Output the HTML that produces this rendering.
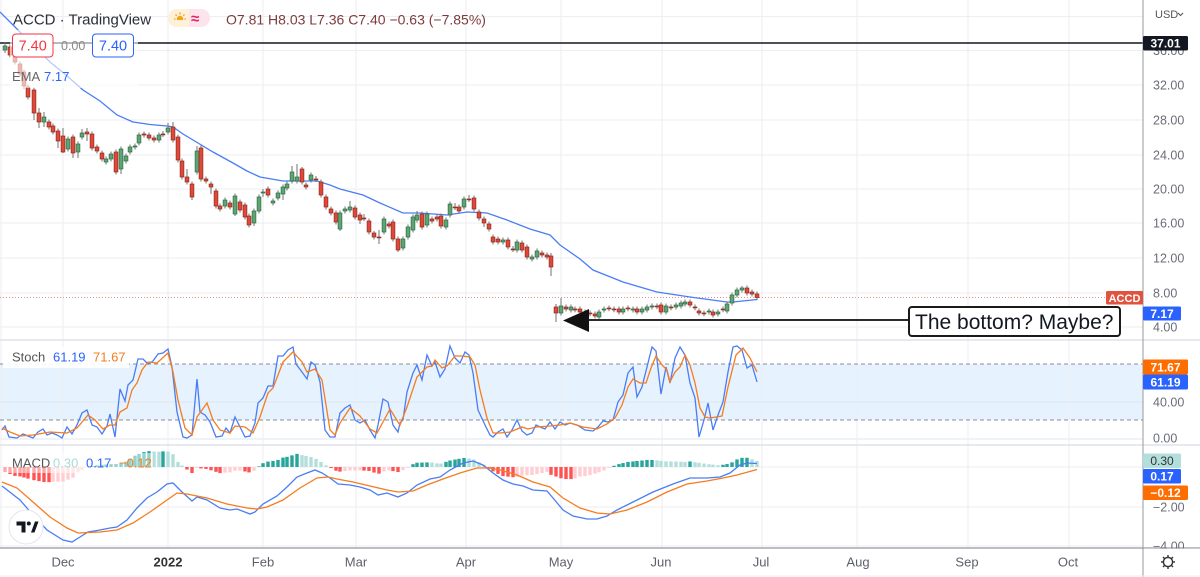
<!DOCTYPE html>
<html><head><meta charset="utf-8">
<style>
html,body{margin:0;padding:0;background:#fff;}
svg{display:block;font-family:"Liberation Sans",Arial,sans-serif;}
</style></head><body>
<svg id="c" width="1200" height="577" viewBox="0 0 1200 577" xmlns="http://www.w3.org/2000/svg">
<rect width="1200" height="577" fill="#fff"/>
<!-- grid -->
<g stroke="#eceef2" stroke-width="1">
<line x1="0" y1="16.5" x2="1143" y2="16.5"/><line x1="0" y1="50.5" x2="1143" y2="50.5"/>
<line x1="0" y1="85" x2="1143" y2="85"/><line x1="0" y1="120" x2="1143" y2="120"/>
<line x1="0" y1="155" x2="1143" y2="155"/><line x1="0" y1="189" x2="1143" y2="189"/>
<line x1="0" y1="223" x2="1143" y2="223"/><line x1="0" y1="258" x2="1143" y2="258"/>
<line x1="0" y1="293" x2="1143" y2="293"/><line x1="0" y1="327" x2="1143" y2="327"/>
<line x1="0" y1="467" x2="1143" y2="467"/><line x1="0" y1="507" x2="1143" y2="507"/>
<line x1="0" y1="546" x2="1143" y2="546"/>
</g>
<!-- stoch band -->
<rect x="0" y="364" width="1143" height="56" fill="#e6f2fd"/>
<g stroke="#dfe6ef" stroke-width="1">
<line x1="0" y1="402" x2="1143" y2="402"/><line x1="0" y1="439" x2="1143" y2="439"/>
</g>
<g stroke="#eceef2" stroke-width="1">
<line x1="63" y1="0" x2="63" y2="548"/><line x1="168" y1="0" x2="168" y2="548"/>
<line x1="263" y1="0" x2="263" y2="548"/><line x1="356" y1="0" x2="356" y2="548"/>
<line x1="466" y1="0" x2="466" y2="548"/><line x1="561" y1="0" x2="561" y2="548"/>
<line x1="662" y1="0" x2="662" y2="548"/><line x1="762" y1="0" x2="762" y2="548"/>
<line x1="857" y1="0" x2="857" y2="548"/><line x1="968" y1="0" x2="968" y2="548"/>
<line x1="1069" y1="0" x2="1069" y2="548"/>
<line x1="1" y1="0" x2="1" y2="548"/>
</g>
<g stroke="#8a8d96" stroke-width="1" stroke-dasharray="4,3">
<line x1="0" y1="364" x2="1143" y2="364"/><line x1="0" y1="420" x2="1143" y2="420"/>
</g>
<!-- panel separators -->
<line x1="0" y1="340" x2="1200" y2="340" stroke="#dfe2ea" stroke-width="1.5"/>
<line x1="0" y1="445" x2="1200" y2="445" stroke="#dfe2ea" stroke-width="1.5"/>

<!-- 37.01 line -->
<line x1="0" y1="43" x2="1143" y2="43" stroke="#131722" stroke-width="1.6"/>
<!-- current price dotted line -->
<line x1="0" y1="297.5" x2="1106" y2="297.5" stroke="#f08a7e" stroke-width="1" stroke-dasharray="1,2"/>

<!-- EMA -->
<polyline fill="none" stroke="#4a7df5" stroke-width="1.3" points="0,12 15,27 33,45 50,62 66,75 83,90 100,101 117,115 133,122 150,124.5 167,126 173,127 183,134 193,140 213,152 233,163 247,171 260,177 283,181 317,181 330,185 340,189 363,195 380,203 403,213 420,213 447,215 467,212 487,213 507,220 530,229 550,235 560,245 580,259 593,270 623,282 657,292 690,297 727,302 733,302 757,299.5"/>

<g id="candles"></g>
<g id="hist"></g>

<!-- Stoch lines -->
<polyline id="sk" fill="none" stroke="#4a7df5" stroke-width="1.3" points="2,430 5,426 9,437 17,438 23,434 28,436 33,438 38,432 43,429 47,435 52,433 57,435 62,438 67,427 72,434 77,425 82,413 87,410 92,425 97,427 102,434 107,426 110,414 115,437 120,389 125,401 128,385 133,380 138,359 143,359 148,364 153,361 158,354 163,353 168,349 172,367 177,412 183,437 187,438 192,435 197,379 200,412 205,415 210,422 216,437 222,436 226,428 230,433 235,417 240,427 245,437 250,436 255,423 258,403 263,398 268,386 273,386 278,356 283,356 288,350 293,347 296,364 302,372 307,379 311,362 315,365 320,382 325,430 330,437 335,437 340,413 345,408 350,405 355,420 360,423 365,420 370,430 375,438 378,425 383,399 388,402 393,425 398,432 400,423 403,420 407,392 413,373 417,365 422,380 427,355 432,366 435,362 440,377 445,369 450,346 455,358 460,363 465,352 469,355 473,373 478,410 485,425 490,435 493,437 498,432 503,429 507,437 512,430 517,420 522,431 527,435 532,433 536,425 540,427 545,429 550,422 555,429 560,422 565,425 570,423 577,425 585,430 593,431 598,427 603,421 608,422 613,420 618,402 623,395 628,373 633,367 637,397 642,387 647,367 652,347 656,351 661,394 666,367 670,383 675,358 680,347 685,355 690,383 695,398 699,437 704,420 708,403 713,430 718,415 723,402 728,372 733,347 737,346 742,350 747,368 752,365 757,382"/>
<polyline fill="none" stroke="#f57c1f" stroke-width="1.3" points="2,428 10,432 20,436 33,435 50,432 67,433 77,428 88,415 95,420 103,429 110,425 115,425 120,412 127,408 132,390 137,383 142,370 148,362 157,363 168,353 173,372 178,400 185,428 192,435 197,417 207,403 213,420 220,430 230,433 235,426 245,427 253,433 260,417 268,393 273,388 283,362 293,352 302,362 307,372 315,369 322,380 330,430 335,435 340,423 350,408 360,416 370,429 377,433 383,422 390,409 398,422 400,425 407,407 417,377 422,372 427,367 432,366 435,360 442,368 447,366 455,356 462,356 470,357 475,365 480,390 487,418 493,433 500,433 510,432 522,427 528,429 537,427 550,426 560,425 570,423 583,427 597,429 607,424 615,418 622,405 628,387 633,379 640,383 646,383 651,368 656,356 662,365 667,370 670,382 675,372 680,367 685,355 690,365 695,383 700,408 705,417 710,418 716,417 722,416 728,387 736,355 743,348 750,358 757,372"/>

<!-- MACD lines -->
<polyline id="mb" fill="none" stroke="#4a7df5" stroke-width="1.3" points="2,486 20,500 33,515 47,530 63,540 72,542 80,537 88,532 100,530 110,528 117,527 127,520 137,508 147,498 157,492 167,484 173,483 182,492 192,501 197,497 207,500 220,508 230,510 237,509 250,514 255,512 263,504 277,496 287,487 297,477 307,473 315,470 322,473 330,478 338,484 350,485 360,487 370,490 378,495 387,493 398,497 407,493 417,485 430,479 440,477 450,470 463,463 473,461 483,465 493,473 503,480 513,484 523,486 533,490 547,491 553,498 563,510 573,516 587,519 597,519 607,516 617,510 633,502 653,492 673,484 690,478 707,478 720,477 730,473 740,465 747,463 757,463.5"/>
<polyline id="mo" fill="none" stroke="#f57c1f" stroke-width="1.3" points="2,482 17,488 33,502 50,517 67,528 78,533 100,532 117,530 133,523 150,512 167,500 177,493 187,494 207,498 227,504 247,508 257,509 267,507 283,500 300,488 317,478 328,477 337,479 353,482 370,486 387,490 398,492 413,491 427,485 443,479 460,473 477,468 490,468 500,470 517,475 533,482 550,487 563,498 580,508 597,513 610,514 627,510 647,502 667,492 687,484 707,481 723,478 737,475 757,469.5"/>

<!-- legend overlays -->
<rect x="10" y="30" width="128" height="58" fill="#fff" opacity="0.6"/>
<rect x="3" y="347" width="126" height="21" fill="#fff" opacity="0.9"/>
<rect x="3" y="453" width="150" height="20" fill="#fff" opacity="0.5"/>

<!-- header -->
<text x="13" y="24.5" font-size="15" fill="#2a2e39">ACCD · TradingView</text>
<rect x="168" y="9" width="42" height="18" rx="9" fill="#fde3ec"/>
<path d="M177,9 h12 v18 h-12 a9,9 0 0 1 0,-18z" fill="#fff0d8"/>
<circle cx="180" cy="19" r="3.2" fill="#f7a21b"/>
<g stroke="#f7a21b" stroke-width="1.3"><line x1="180" y1="12.5" x2="180" y2="14.5"/><line x1="174" y1="19" x2="175.5" y2="19"/><line x1="184.5" y1="19" x2="186" y2="19"/><line x1="175.5" y1="14.5" x2="176.7" y2="15.7"/><line x1="184.5" y1="14.5" x2="183.3" y2="15.7"/></g>
<rect x="174" y="20" width="12" height="3" fill="#fff0d8"/>
<text x="191" y="23.5" font-size="15" font-weight="bold" fill="#e0245e">≈</text>
<text x="226" y="24.5" font-size="14" fill="#7f3b3b">O7.81 H8.03 L7.36 C7.40 −0.63 (−7.85%)</text>

<rect x="12.5" y="34" width="40.5" height="23" rx="3.5" fill="#fff" stroke="#f23645" stroke-width="1"/>
<text x="32.7" y="50.5" font-size="14.5" fill="#f23645" text-anchor="middle">7.40</text>
<text x="61" y="50" font-size="12.5" fill="#8a8a8a">0.00</text>
<rect x="92.5" y="34" width="41" height="23" rx="3.5" fill="#fff" stroke="#2962ff" stroke-width="1"/>
<text x="113" y="50.5" font-size="14.5" fill="#2962ff" text-anchor="middle">7.40</text>
<text x="12" y="81" font-size="13" fill="#666">EMA</text>
<text x="44" y="81" font-size="13" fill="#2962ff">7.17</text>

<text x="12" y="361.5" font-size="13" fill="#555">Stoch</text>
<text x="53" y="361.5" font-size="13" fill="#2962ff">61.19</text>
<text x="93" y="361.5" font-size="13" fill="#f57c1f">71.67</text>

<text x="12" y="467.5" font-size="13" fill="#555">MACD</text>
<text x="53" y="467.5" font-size="13" fill="#a8dcd6">0.30</text>
<text x="86" y="467.5" font-size="13" fill="#2962ff">0.17</text>
<text x="119" y="467.5" font-size="13" fill="#f57c1f">−0.12</text>

<!-- annotation -->
<line x1="586" y1="320" x2="909" y2="320" stroke="#2a2a2a" stroke-width="2"/>
<polygon points="563,320.5 589,309 589,332" fill="#111"/>
<rect x="909" y="307" width="211" height="29" rx="3" fill="#fff" stroke="#1a1a1a" stroke-width="2"/>
<text x="915" y="329" font-size="21" fill="#131722">The bottom? Maybe?</text>

<!-- TV logo -->
<circle cx="26" cy="527" r="17" fill="#fff" stroke="#e3e5ea" stroke-width="1"/>
<path d="M16.5,521.5 h9 v11 h-4 v-7 h-5z" fill="#131722"/>
<circle cx="28.8" cy="523.5" r="2" fill="#131722"/>
<polygon points="31,532.5 35,521.5 38.5,521.5 34.5,532.5" fill="#131722"/>

<!-- axes -->
<line x1="1143" y1="0" x2="1143" y2="577" stroke="#9598a1" stroke-width="1"/>
<line x1="0" y1="548" x2="1200" y2="548" stroke="#9598a1" stroke-width="1.2"/>
<line x1="0" y1="576" x2="1200" y2="576" stroke="#eceef2" stroke-width="1"/>

<text x="1155" y="18" font-size="11" fill="#555">USD</text>
<path d="M1178,13 l2.5,2.5 l2.5,-2.5" fill="none" stroke="#555" stroke-width="1.1"/>

<g font-size="12.5" fill="#6a6d78">
<text x="1153" y="55">36.00</text>
<text x="1153" y="89.5">32.00</text>
<text x="1153" y="124.5">28.00</text>
<text x="1153" y="159.5">24.00</text>
<text x="1153" y="193.5">20.00</text>
<text x="1153" y="227.5">16.00</text>
<text x="1153" y="262.5">12.00</text>
<text x="1153" y="297.5">8.00</text>
<text x="1153" y="331.5">4.00</text>
<text x="1153" y="406.5">40.00</text>
<text x="1153" y="442.5">0.00</text>
<text x="1153" y="511.5">−2.00</text>
<text x="1153" y="550.5">−4.00</text>
</g>
<rect x="1144" y="548.6" width="56" height="27" fill="#fff"/>
<rect x="1143" y="36" width="45" height="14.5" fill="#131722" rx="1.5"/>
<text x="1165.5" y="47.5" font-size="12" font-weight="bold" fill="#fff" text-anchor="middle">37.01</text>
<rect x="1106" y="291" width="37" height="13.5" fill="#e0533f" rx="1.5"/>
<text x="1124.5" y="301.8" font-size="11" font-weight="bold" fill="#fff" text-anchor="middle">ACCD</text>
<rect x="1143" y="306.5" width="38" height="14" fill="#2962ff" rx="1.5"/>
<text x="1162" y="317.8" font-size="12" font-weight="bold" fill="#fff" text-anchor="middle">7.17</text>

<rect x="1143" y="359.5" width="45" height="15" fill="#ff6d00" rx="1.5"/>
<text x="1165.5" y="371.3" font-size="12" font-weight="bold" fill="#fff" text-anchor="middle">71.67</text>
<rect x="1143" y="374.5" width="45" height="15" fill="#2962ff" rx="1.5"/>
<text x="1165.5" y="386.3" font-size="12" font-weight="bold" fill="#fff" text-anchor="middle">61.19</text>

<rect x="1143" y="453.5" width="38" height="14.5" fill="#b2dfdb" rx="1.5"/>
<text x="1162" y="465" font-size="12" fill="#333" text-anchor="middle">0.30</text>
<rect x="1143" y="469" width="38" height="14.5" fill="#2962ff" rx="1.5"/>
<text x="1162" y="480.5" font-size="12" font-weight="bold" fill="#fff" text-anchor="middle">0.17</text>
<rect x="1143" y="485.5" width="45" height="14.5" fill="#ff6d00" rx="1.5"/>
<text x="1165.5" y="497" font-size="12" font-weight="bold" fill="#fff" text-anchor="middle">−0.12</text>

<!-- gear -->
<g transform="translate(1168,562)" stroke="#333" stroke-width="1.4" fill="none">
<circle r="4.6"/>
<line x1="0" y1="-7" x2="0" y2="-4.6"/><line x1="0" y1="7" x2="0" y2="4.6"/>
<line x1="-7" y1="0" x2="-4.6" y2="0"/><line x1="7" y1="0" x2="4.6" y2="0"/>
<line x1="-5" y1="-5" x2="-3.3" y2="-3.3"/><line x1="5" y1="5" x2="3.3" y2="3.3"/>
<line x1="-5" y1="5" x2="-3.3" y2="3.3"/><line x1="5" y1="-5" x2="3.3" y2="-3.3"/>
</g>

<!-- x axis labels -->
<g font-size="13" fill="#5d606b" text-anchor="middle">
<text x="63" y="566.5">Dec</text>
<text x="168" y="566.5" font-weight="bold" fill="#333">2022</text>
<text x="263" y="566.5">Feb</text>
<text x="356" y="566.5">Mar</text>
<text x="466" y="566.5">Apr</text>
<text x="561" y="566.5">May</text>
<text x="661" y="566.5">Jun</text>
<text x="761" y="566.5">Jul</text>
<text x="858" y="566.5">Aug</text>
<text x="967" y="566.5">Sep</text>
<text x="1068" y="566.5">Oct</text>
</g>
</svg>
<script>
(function(){
var D="5,g,46,50,42,53;10,r,47,55;15,r,55,62;20,r,64,74;24,r,72,86;28,r,87,97;34,r,90,113,,120;39,r,113,122,108,128;44,g,117,122,112,127;49,r,122,127;53,r,126,132;58,r,131,141,,148;63,r,136,152,128,153;68,g,139,149;73,r,137,153,,158;78,g,144,152,,158;82,g,133,137,129;87,r,132,134,128,141;92,r,134,148;97,r,147,151;102,r,153,159;106,g,159,162;111,g,154,159;116,r,152,172;121,g,149,169,,174;126,g,156,161;130,g,147,152;135,g,146,147;139,g,135,143;144,r,134,135;149,r,135,138;154,r,138,140;159,g,135,140;163,r,134,134.8,131,137;168,g,128,132,123;173,r,127,140,122;178,r,137,160;182,r,161,177;187,r,177,182,169;192,r,184,197,,200;197,g,151,172,146;201,r,148,179;206,r,179,181;211,r,184,187,,194;216,r,191,206;220,r,206,209;225,g,200,206;230,r,203,207;235,g,196,214,,216;240,r,202,210;245,r,205,217;249,r,216,225;254,g,211,223,,226;259,g,197,211;263,g,192,193,189,197;268,r,189,195;273,g,201,203;278,g,193,198;283,g,187,194,,200;287,g,184,188;292,g,172,181,166;297,g,177,181,164;302,r,169,182,167;306,r,185,187;311,g,175,180;316,r,179,179.8,176,182;321,r,182,195;326,r,197,207;331,r,209,213;336,r,213,222;340,g,213,229,,231;345,g,209,211;350,g,207,210,201;355,r,208,217;360,r,215,220,,224;364,r,218,218.8,214,221;369,r,221,232;374,r,233,237,231;379,r,237,237.8,230,244;384,g,219,232;389,r,224,226;393,r,222,239;398,r,239,250,,252;403,g,239,248;408,g,227,237;413,g,217,230;417,g,215,220,211;422,r,214,227;427,g,214,225;432,r,219,221;437,r,217,219;441,r,216,226;446,g,220,227;450,g,204,215;455,r,207,207.8,203,210;459,r,207,211;464,g,199,207;469,r,199,199.8,195,202;474,r,198,209;479,r,212,218;484,r,219,223,,227;489,r,224,229;493,r,237,242;498,r,239,242;503,g,240,242;508,r,240,247;513,r,249,249.8,246,252;517,g,242,250;522,r,243,250;527,r,247,257;532,g,257,259;537,g,251,257;542,r,253,255;547,r,255,257;551,r,256,267,253,276;556,r,307,313,304,322;561,g,306,313,298;566,r,307,309;571,g,307,310;575,r,309,309.8;580,r,309,312;585,r,312,313;590,r,313,313.8;595,r,314,316;599,g,312,317;604,g,309,310;609,r,308,308.8;614,r,309,309.8;619,r,309,312;623,g,309,312;628,r,308,308.8;633,g,309,310;637,r,309,312;642,g,309,312;647,g,307,310;652,g,306,307;657,r,306,306.8;661,r,305,312;666,g,306,312;671,r,307,307.8;676,g,305,307;681,g,303,306;685,g,302,304;690,r,302,305;695,r,307,307.8;699,r,311,313;704,r,313,313.8;709,g,311,312;713,r,312,315;718,g,312,314;723,r,309,309.8;727,g,304,311;732,g,295,303;737,g,290,295;742,g,288,290,286;747,r,288,293;752,r,292,294;757,r,294,297.5";
var h='',xs=[];
D.split(';').forEach(function(s){
 var p=s.split(','),x=+p[0],c=p[1],t=+p[2],b=+p[3];
 var hi=p[4]?+p[4]:t-2.5, lo=p[5]?+p[5]:b+2.5;
 xs.push(x);
 var ht=Math.max(b-t,0.9);
 h+='<line x1="'+x+'" y1="'+hi+'" x2="'+x+'" y2="'+lo+'" stroke="#707070" stroke-width="1"/>';
 h+='<rect x="'+(x-1.9)+'" y="'+t+'" width="3.8" height="'+ht+'" fill="'+(c=='g'?'#5ea576':'#e2483a')+'" stroke="'+(c=='g'?'#2e6b44':'#8e2a20')+'" stroke-width="0.7"/>';
});
document.getElementById('candles').innerHTML=h;
function pts(id){return document.getElementById(id).getAttribute('points').trim().split(/\s+/).map(function(q){var a=q.split(',');return [+a[0],+a[1]];});}
function it(P,x){for(var i=1;i<P.length;i++){if(x<=P[i][0]){var a=P[i-1],b=P[i],t=(x-a[0])/(b[0]-a[0]);return a[1]+t*(b[1]-a[1]);}}return P[P.length-1][1];}
var M=pts('mb'),S=pts('mo'),g='',prev=0;
xs.forEach(function(x){
 var v=it(S,x)-it(M,x);
 var col;
 if(v>=0){col=(v>=prev)?'#26a69a':'#b2dfdb';}else{col=(v<=prev)?'#ff5252':'#ffcdd2';}
 prev=v;
 var y=v>=0?467-v:467, hh=Math.max(Math.abs(v),0.6);
 g+='<rect x="'+(x-1.7)+'" y="'+y+'" width="3.4" height="'+hh+'" fill="'+col+'"/>';
});
document.getElementById('hist').innerHTML=g;
})();
</script>
</body></html>
